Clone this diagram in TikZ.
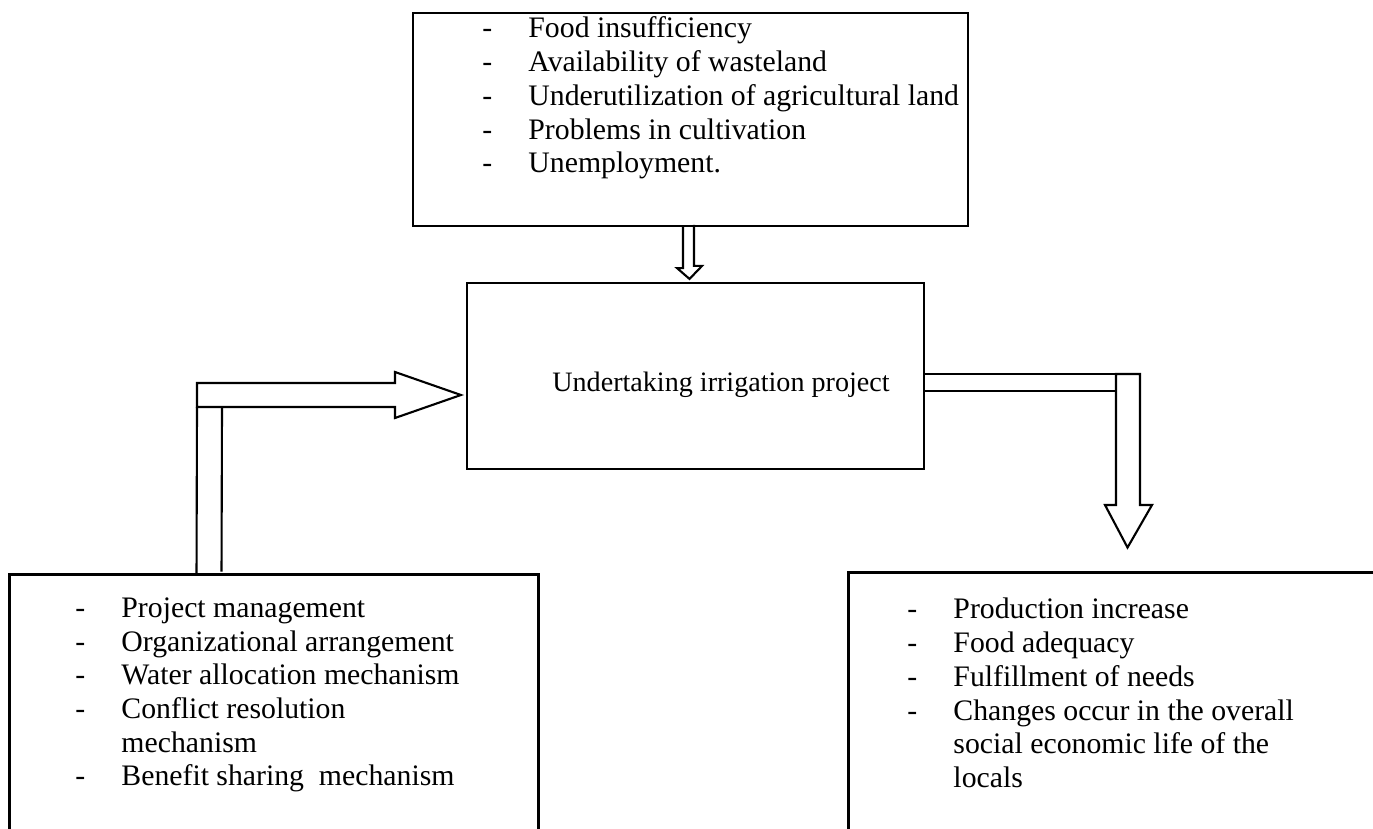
\documentclass[tikz,border=0pt]{standalone}
\usepackage{fontspec}
\setmainfont{Liberation Serif}
\usetikzlibrary{calc}
\newcommand{\dashline}[1]{\makebox[0.69cm][l]{-}#1}
\newcommand{\contline}[1]{\hspace*{0.69cm}#1}
\begin{document}
\begin{tikzpicture}[x=0.015cm,y=-0.015cm,
    every node/.style={font=\fontsize{12.7}{14.4}\selectfont},
    box/.style={draw,line width=0.9pt,minimum width=#1,inner sep=0pt},
    openbox/.style={minimum width=#1,inner sep=0pt},
    listtext/.style={align=left,anchor=west,inner sep=0pt},
    blockarrow/.style={draw,line width=0.9pt,line join=miter}]
    \useasboundingbox (0,0) rectangle (1373,829);
    %\node[] at (0,0) {};
    % boxes
    \node[box=8.325cm,minimum height=3.195cm] (problems) at (690.5,119.5) {};
    \node[box=6.855cm,minimum height=2.79cm] (project) at (695.5,376) {};
    \node[openbox=7.92cm,minimum height=3.81cm] (inputs) at (274,702) {};
    \node[openbox=7.965cm,minimum height=3.84cm] (outcomes) at (1114.5,701) {};
    \draw[line width=0.9pt] (inputs.south west) |- (inputs.north east) -- (inputs.south east);
    \draw[line width=0.9pt] (outcomes.south west) |- (outcomes.north east);
    % texts
    \node[listtext] (problemlist) at (482,98) {\dashline{Food insufficiency}\\
        \dashline{Availability of wasteland}\\
        \dashline{Underutilization of agricultural land}\\
        \dashline{Problems in cultivation}\\
        \dashline{Unemployment.}};
    \node[font=\fontsize{12}{14.4}\selectfont] (projectlabel) at (721,385) {Undertaking irrigation project};
    \node[listtext] (inputlist) at (75,695) {\dashline{Project management}\\
        \dashline{Organizational arrangement}\\
        \dashline{Water allocation mechanism}\\
        \dashline{Conflict resolution}\\
        \contline{mechanism}\\
        \dashline{Benefit sharing\ \ mechanism}};
    \node[listtext] (outcomelist) at (907,693) {\dashline{Production increase}\\
        \dashline{Food adequacy}\\
        \dashline{Fulfillment of needs}\\
        \dashline{Changes occur in the overall}\\
        \contline{social economic life of the}\\
        \contline{locals}};
    % arrows
    \draw[blockarrow] ($(problems.south)+(-7.5,0)$) -- ++(0,41) -- ++(-6,0) -- ($(project.north)+(-6,-3)$)
        -- ++(12.5,-13) -- ++(-8,0) -- ++(0,-41);
    \draw[blockarrow] ($(inputs.north west)+(187,0)$) -- (197,407);
    \draw[blockarrow] ($(inputs.north west)+(212,-3)$) -- (222,407);
    \draw[blockarrow] (197,407) -- (197,383) -- (395,383) -- (395,372) -- ($(project.west)+(-5,19)$)
        -- (395,418) -- (395,407) -- cycle;
    \draw[blockarrow] ($(project.east)+(0,-2)$) -- (1116,374);
    \draw[blockarrow] ($(project.east)+(0,15)$) -- (1116,391);
    \draw[blockarrow] (1116,374) -- (1140,374) -- (1140,505) -- (1152,505) -- ($(outcomes.north west)+(279,-25)$)
        -- (1105,505) -- (1116,505) -- cycle;
\end{tikzpicture}
\end{document}
